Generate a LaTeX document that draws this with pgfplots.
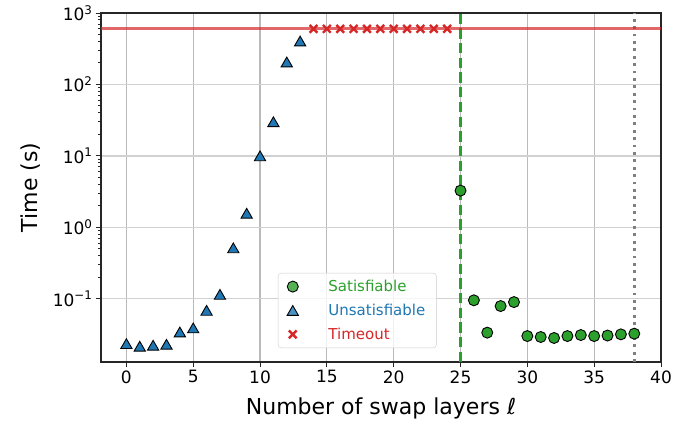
\documentclass[border=0pt]{standalone}
\usepackage{fontspec}
\setmainfont{DejaVu Sans}
\usepackage{pgfplots}
\pgfplotsset{compat=1.18}
\definecolor{tabgreen}{HTML}{2CA02C}
\definecolor{tabblue}{HTML}{1F77B4}
\definecolor{tabred}{HTML}{D62728}
\begin{document}
\begin{tikzpicture}
\begin{semilogyaxis}[name=ax, scale only axis, width=560pt, height=349pt,
  xmin=-1.9, xmax=40, ymin=0.013, ymax=1000,
  xtick={0,5,...,40}, ytick={0.1,1,10,100,1000},
  yticklabels={10\textsuperscript{−1},10\textsuperscript{0},10\textsuperscript{1},10\textsuperscript{2},10\textsuperscript{3}},
  /pgf/number format/assume math mode=true,
  tick label style={font=\fontsize{17}{20}\selectfont},
  label style={font=\fontsize{22}{26}\selectfont},
  xlabel={Number of swap layers ℓ}, ylabel={Time (s)},
  xlabel style={yshift=-8pt}, ylabel style={yshift=6pt},
  tick align=outside, tick pos=left,
  major tick length=5pt, minor tick length=3pt,
  every tick/.style={black!85, line width=1pt},
  axis line style={black!85, line width=1.1pt},
  grid=major,
  major x grid style={black!27, line width=1.1pt},
  major y grid style={black!18, line width=1.3pt},
  legend cell align=left,
  legend style={at={(0.316,0.04)}, anchor=south west, draw=black!20, rounded corners=3pt,
    fill=white, fill opacity=0.8, text opacity=1, draw opacity=1,
    font=\fontsize{15}{18}\selectfont, row sep=7pt, column sep=28pt, inner xsep=9pt, inner ysep=5pt},
]
\addplot[forget plot, tabgreen, line width=2.8pt, dash pattern=on 10.3pt off 4.4pt] coordinates {(25,0.013) (25,1000)};
\addplot[forget plot, gray, line width=2.8pt, dash pattern=on 2.8pt off 4.6pt] coordinates {(38,0.013) (38,1000)};
\addplot[forget plot, tabred, opacity=0.7, line width=2.8pt] coordinates {(-1.9,600) (40,600)};
\addplot[only marks, mark=*, mark size=5.5pt, mark options={fill=tabgreen, draw=black, line width=0.9pt}] coordinates {
(25,3.26) (26,0.095) (27,0.0335) (28,0.0789) (29,0.0897) (30,0.030) (31,0.0291) (32,0.0282)
(33,0.030) (34,0.031) (35,0.030) (36,0.0305) (37,0.0317) (38,0.0324)};
\addlegendentry{\textcolor{tabgreen}{Satisfiable}}
\addplot[only marks, mark=triangle*, mark size=6.5pt, mark options={fill=tabblue, draw=black, line width=0.9pt, yshift=-1.6pt}] coordinates {
(0,0.0235) (1,0.0216) (2,0.0223) (3,0.023) (4,0.0342) (5,0.039) (6,0.0687) (7,0.115)
(8,0.515) (9,1.57) (10,10) (11,30) (12,206) (13,405)};
\addlegendentry{\textcolor{tabblue}{Unsatisfiable}}
\addplot[only marks, mark=x, mark size=5.5pt, mark options={draw=tabred, line width=2.4pt}] coordinates {
(14,600) (15,600) (16,600) (17,600) (18,600) (19,600) (20,600) (21,600) (22,600) (23,600) (24,600)};
\addlegendentry{\textcolor{tabred}{Timeout}}
\end{semilogyaxis}
\pgfresetboundingbox
\path[use as bounding box] ([xshift=-101pt,yshift=-64pt]ax.south west) rectangle ([xshift=38pt,yshift=13pt]ax.north east);
\end{tikzpicture}
\end{document}
